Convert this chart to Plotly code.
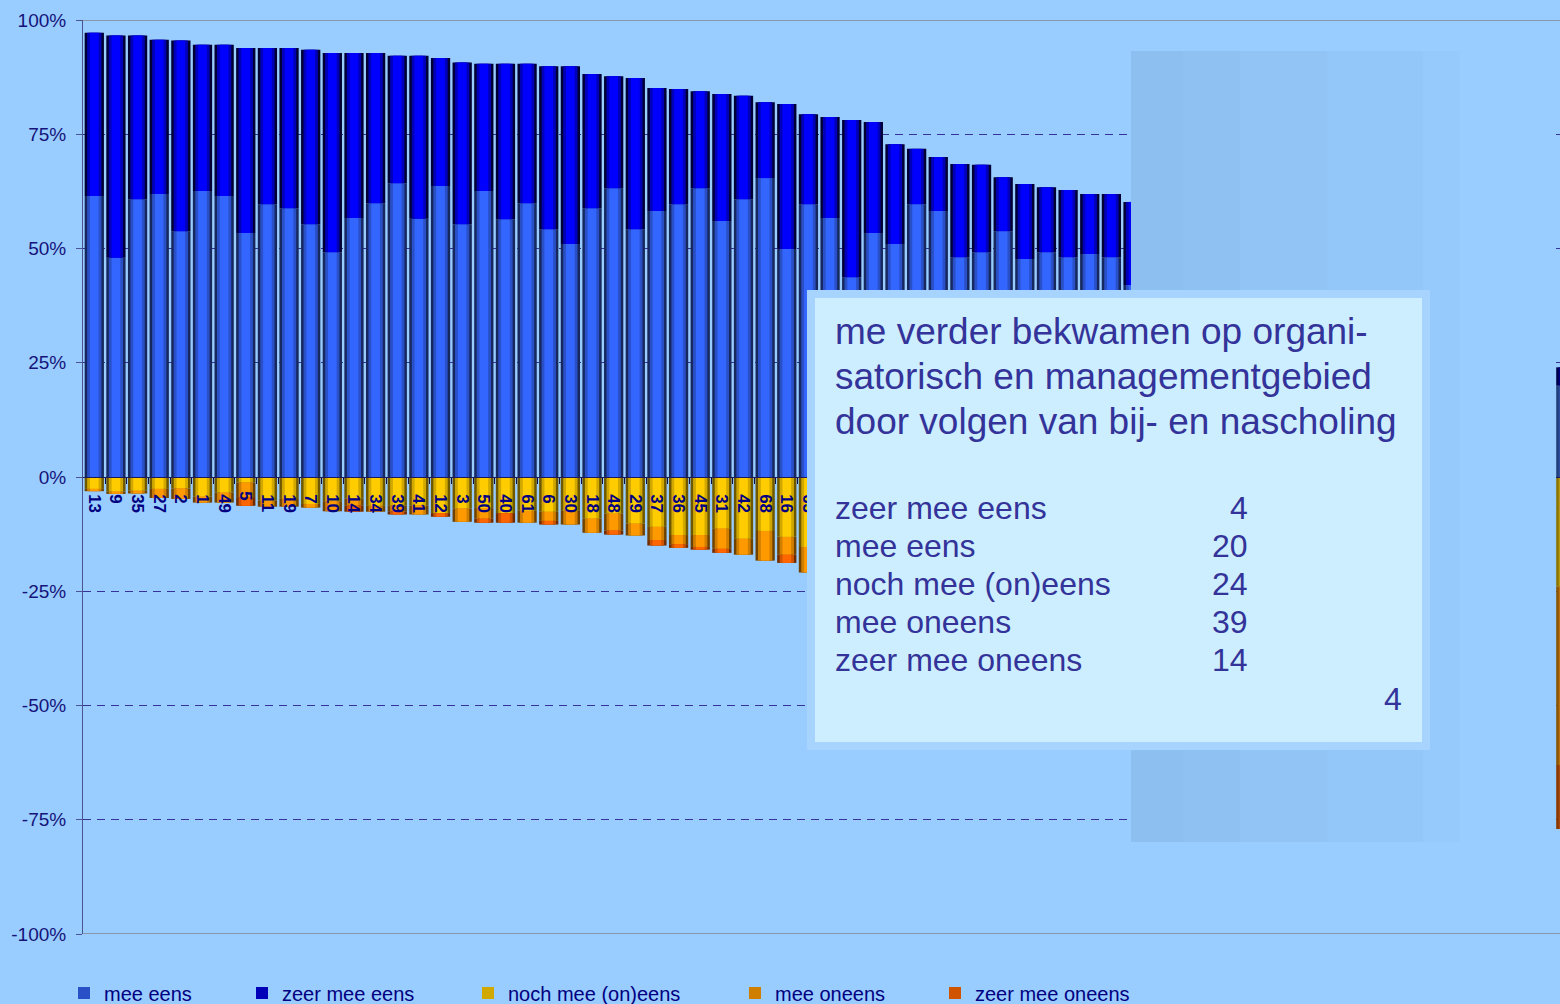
import numpy as np
import plotly.graph_objects as go

# question numbers, sorted by share of (zeer) mee eens
labels = ["13", "9", "35", "27", "2", "1", "49", "5", "11", "19", "7", "10", "14", "34",
          "39", "41", "12", "3", "50", "40", "61", "6", "30", "18", "48", "29", "37", "36",
          "45", "31", "42", "68", "16", "63", "4", "8", "15", "17", "20", "21", "22", "23",
          "24", "26", "28", "32", "33", "38", "43", "44", "46", "47", "51", "52", "53", "54",
          "55", "56", "57", "58", "59", "60", "62", "64", "65", "66", "67", "25"]

# percentages per question
mee_eens = [61.5, 48.0, 60.8, 61.9, 53.8, 62.6, 61.5, 53.4, 59.7, 58.8, 55.3, 49.2, 56.7, 59.9,
            64.3, 56.5, 63.7, 55.3, 62.6, 56.4, 59.9, 54.2, 51.0, 58.8, 63.2, 54.2, 58.2, 59.7,
            63.2, 56.0, 60.8, 65.4, 49.9, 59.7, 56.7, 43.7, 53.4, 51.0, 59.7, 58.2, 48.1, 49.2,
            53.8, 47.7, 49.2, 48.1, 48.8, 48.1, 42.0, 45, 44, 44, 42, 42, 40, 39,
            38, 37, 35, 34, 32, 31, 29, 28, 26, 24, 22, 20]
zeer_mee_eens = [35.7, 48.6, 35.8, 33.8, 41.7, 32.0, 33.1, 40.5, 34.2, 35.1, 38.2, 43.6, 36.1, 32.9,
                 27.9, 35.7, 28.0, 35.4, 27.8, 34.0, 30.5, 35.7, 38.9, 29.4, 24.5, 33.1, 26.9, 25.2,
                 21.2, 27.8, 22.6, 16.6, 31.7, 19.7, 22.1, 34.4, 24.3, 21.8, 12.1, 11.8, 20.4, 19.1,
                 11.8, 16.4, 14.2, 14.7, 13.1, 13.8, 18.2, 14, 14, 13, 13, 12, 12, 11,
                 11, 10, 10, 9, 9, 8, 8, 7, 7, 6, 6, 5]
noch_mee_oneens = [2.6, 3.2, 3.0, 2.6, 2.5, 4.3, 3.4, 1.2, 5.2, 4.8, 5.9, 5.3, 4.7, 6.3,
                   6.2, 6.2, 7.9, 6.9, 6.8, 7.9, 7.4, 7.6, 7.4, 9.1, 8.0, 10.2, 10.9, 12.7,
                   12.7, 11.3, 13.5, 11.8, 13.1, 15.3, 14, 15, 15, 18, 18, 19, 20, 20,
                   21, 22, 22, 22, 23, 23, 24, 24, 25, 25, 26, 26, 27, 28,
                   28, 29, 30, 30, 31, 32, 32, 33, 34, 35, 36, 37]
mee_oneens = [0.5, 0.5, 0.6, 2.0, 2.3, 1.3, 2.2, 3.2, 1.3, 1.7, 0.8, 2.2, 1.5, 1.3,
              1.3, 2.0, 0.0, 2.9, 2.3, 0.0, 2.6, 2.0, 3.0, 3.1, 3.7, 2.6, 2.9, 2.0,
              2.6, 4.4, 3.5, 6.5, 3.9, 5.6, 6, 5.5, 6, 7.5, 8, 9, 9, 9.5,
              10.5, 11, 11.5, 12, 12, 12, 12.5, 14, 14, 15, 15, 16, 16, 17,
              17, 18, 18, 19, 19, 20, 20, 21, 21, 22, 23, 24]
zeer_mee_oneens = [0, 0, 0, 0, 0, 0, 0, 1.9, 0, 0, 0, 0, 1.4, 0,
                   0.7, 0, 0.8, 0, 0.9, 2.1, 0, 0.8, 0, 0, 0.9, 0, 1.2, 0.8,
                   0.6, 0.9, 0, 0, 1.8, 0, 1.2, 1.4, 1.3, 1.7, 2.2, 2, 2.5, 2.2,
                   2.9, 2.9, 3.1, 3.2, 3.1, 3.1, 3.3, 3, 3, 3, 4, 4, 5, 5,
                   6, 6, 7, 7, 8, 8, 9, 9, 10, 11, 12, 13]

# the question in the text box (shown as the last bar)
vraag_label = "53"
vraag_titel = ["me verder bekwamen op organi-",
               "satorisch en managementgebied",
               "door volgen van bij- en nascholing"]
vraag_cats = ["zeer mee eens", "mee eens", "noch mee (on)eens", "mee oneens", "zeer mee oneens"]
vraag_vals = [4, 20, 24, 39, 14]
vraag_geen = 4

y_ticks = [100, 75, 50, 25, 0, -25, -50, -75, -100]

BG = "#99ccff"
NAVY = "#000080"
BOX_TEXT = "#333399"
FONT = "Liberation Sans, Arial, sans-serif"

# (name, values, sign, box value, [edge, mid, bright], [highlight edge, mid, bright])
series = [
    ("mee eens", mee_eens, 1, vraag_vals[1],
     ["#16285e", "#2a50c8", "#3366ff"], ["#22407e", "#2e4f9f", "#3a5cb0"]),
    ("zeer mee eens", zeer_mee_eens, 1, vraag_vals[0],
     ["#000035", "#0000b8", "#0000ff"], ["#00004a", "#000080", "#000090"]),
    ("noch mee (on)eens", noch_mee_oneens, -1, vraag_vals[2],
     ["#6e5800", "#d0a800", "#ffcc00"], ["#8a7400", "#b89a10", "#c8a820"]),
    ("mee oneens", mee_oneens, -1, vraag_vals[3],
     ["#6e4200", "#d07e00", "#ff9900"], ["#8a5400", "#b87010", "#c88020"]),
    ("zeer mee oneens", zeer_mee_oneens, -1, vraag_vals[4],
     ["#6e2c00", "#d05400", "#ff6600"], ["#8a3800", "#a84a10", "#b85818"]),
]

x_pos = np.arange(len(labels) + 1)
n = len(labels)
widths = [0.89, 0.66, 0.40]
x_range = [-0.522, 67.73]

fig = go.Figure()

for k, w in enumerate(widths):
    axis = "x" if k == 0 else f"x{k + 1}"
    for i, (name, vals, sign, vraag_v, cols, hl) in enumerate(series):
        y = sign * np.array(list(vals) + [vraag_v], dtype=float)
        colors = [cols[k]] * n + [hl[k]]
        fig.add_trace(go.Bar(
            x=x_pos, y=y, width=w, xaxis=axis, yaxis="y",
            name=name, marker=dict(color=colors, line=dict(width=0)),
            showlegend=(k == 1), legend="legend" if i == 0 else f"legend{i + 1}",
            hoverinfo="skip",
        ))

# question numbers: transparent copy of the first negative series, on its own layer
fig.add_trace(go.Bar(
    x=x_pos, y=-np.array(noch_mee_oneens + [vraag_vals[2]], dtype=float),
    width=widths[0], xaxis="x4", yaxis="y", showlegend=False, hoverinfo="skip",
    marker=dict(color="rgba(0,0,0,0)", line=dict(width=0)),
    text=["\u00a0\u00a0\u00a0" + t for t in labels + [vraag_label]],
    textposition="inside", insidetextanchor="start", textangle=90, constraintext="none",
    insidetextfont=dict(family=FONT, size=17, color=NAVY, weight="bold"),
))

# legends, one per series so the spacing follows the original
legend_x = [80, 258, 484, 751, 951]
legend_layout = {}
for i, px in enumerate(legend_x):
    key = "legend" if i == 0 else f"legend{i + 1}"
    legend_layout[key] = dict(
        orientation="h", x=(px - 83 - 16) / 1477, y=-0.0646,
        xanchor="left", yanchor="middle", bgcolor="rgba(0,0,0,0)",
        font=dict(family=FONT, size=20, color=NAVY),
    )

fig.update_layout(
    width=1560, height=1004,
    margin=dict(l=83, r=0, t=20, b=70, autoexpand=False),
    paper_bgcolor=BG, plot_bgcolor=BG,
    barmode="relative",
    font=dict(family=FONT),
    **legend_layout,
)

fig.update_layout(
    xaxis=dict(range=x_range, anchor="free", position=0.5, showline=True,
               linecolor="#1c1c5c", linewidth=1, showgrid=False, zeroline=False,
               tickmode="array", tickvals=np.arange(n + 1) + 0.5, ticks="outside",
               ticklen=6, tickcolor="#101040", showticklabels=False),
    xaxis2=dict(range=x_range, overlaying="x", visible=False),
    xaxis3=dict(range=x_range, overlaying="x", visible=False),
    xaxis4=dict(range=x_range, overlaying="x", visible=False),
    yaxis=dict(range=[-100, 100], tickmode="array", tickvals=y_ticks,
               ticktext=[f"{v}%" for v in y_ticks], showline=True, linecolor="#4a5490",
               linewidth=1, ticks="outside", ticklen=6, tickcolor="#4a5490",
               ticklabelstandoff=6, tickfont=dict(family=FONT, size=19, color="#14147a"),
               showgrid=True, gridcolor="#34349c", gridwidth=1, griddash="8px,6px",
               zeroline=False),
)

shapes = []
# solid grey lines at +100% and -100%
for yv in (100, -100):
    shapes.append(dict(type="line", xref="paper", yref="y", x0=0, x1=1, y0=yv, y1=yv,
                       line=dict(color="#8a96aa", width=2), layer="above"))


def px_x(p):
    return (p - 83) / 1477


def px_y(p):
    return (934 - p) / 914


# banded panel behind the text box
band_edges = [1131, 1183, 1240, 1327, 1423, 1460, 1556]
band_cols = ["#8ebff1", "#90c1f3", "#92c4f6", "#94c7f9", "#97cafc", BG]
for a, b, c in zip(band_edges[:-1], band_edges[1:], band_cols):
    shapes.append(dict(type="rect", xref="paper", yref="paper", x0=px_x(a), x1=px_x(b),
                       y0=px_y(842), y1=px_y(51), fillcolor=c, line=dict(width=0),
                       layer="above"))
# text box with light frame
shapes.append(dict(type="rect", xref="paper", yref="paper", x0=px_x(807), x1=px_x(1430),
                   y0=px_y(750), y1=px_y(290), fillcolor="#a6d4ff", line=dict(width=0),
                   layer="above"))
shapes.append(dict(type="rect", xref="paper", yref="paper", x0=px_x(815), x1=px_x(1422),
                   y0=px_y(742), y1=px_y(298), fillcolor="#cceeff", line=dict(width=0),
                   layer="above"))
fig.update_layout(shapes=shapes)

title_y = [331, 376, 421]
for line, py in zip(vraag_titel, title_y):
    fig.add_annotation(text=line, xref="paper", yref="paper", x=px_x(833), y=px_y(py),
                       xanchor="left", yanchor="middle", showarrow=False,
                       font=dict(family=FONT, size=37, color=BOX_TEXT))

row_y = [508, 546, 584, 622, 660]
for cat, val, py in zip(vraag_cats, vraag_vals, row_y):
    fig.add_annotation(text=cat, xref="paper", yref="paper", x=px_x(833), y=px_y(py),
                       xanchor="left", yanchor="middle", showarrow=False,
                       font=dict(family=FONT, size=32, color=BOX_TEXT))
    fig.add_annotation(text=str(val), xref="paper", yref="paper", x=px_x(1250), y=px_y(py),
                       xanchor="right", yanchor="middle", showarrow=False,
                       font=dict(family=FONT, size=32, color=BOX_TEXT))
fig.add_annotation(text=str(vraag_geen), xref="paper", yref="paper", x=px_x(1404), y=px_y(699),
                   xanchor="right", yanchor="middle", showarrow=False,
                   font=dict(family=FONT, size=32, color=BOX_TEXT))

# the page body has a default margin; drop it so the figure sits at the top-left corner
fig.write_html("out.html", config={"displayModeBar": False},
               post_script="document.body.style.margin = '0px';")
